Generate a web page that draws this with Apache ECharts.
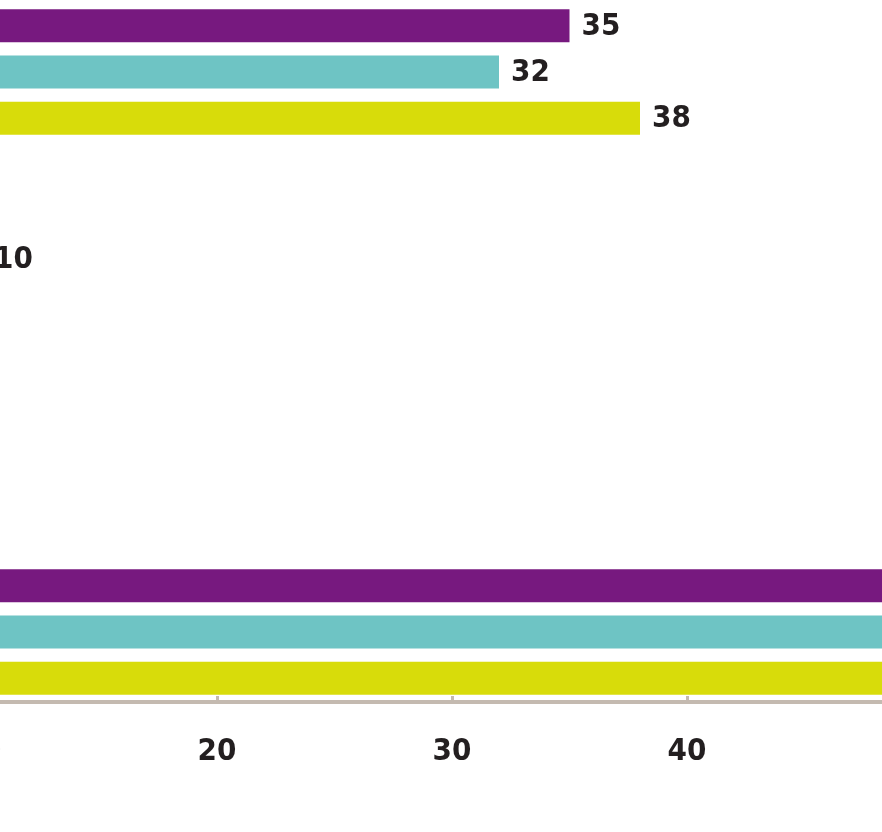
<!DOCTYPE html>
<html>
<head>
<meta charset="utf-8">
<style>
  html, body { margin: 0; padding: 0; background: #ffffff; }
  #chart { width: 882px; height: 832px; }
</style>
<script src="https://cdn.jsdelivr.net/npm/echarts@6/dist/echarts.min.js"></script>
</head>
<body>
<div id="chart"></div>
<script>
// Categories (their labels lie outside the visible crop)
const categories = ['Category 1', 'Category 2', 'Category 3', 'Category 4'];
// Series values (values whose labels are off-canvas are estimates)
const seriesPurple = [35, 8, 4, 56];
const seriesCyan   = [32, 10, 3, 53];
const seriesYellow = [38, 6, 5, 55];
const seriesNames  = ['Series A', 'Series B', 'Series C'];
const colors = ['#77197f', '#6ec4c4', '#d8dc0a'];
const xTicks = { min: 0, max: 60, interval: 10 };

const FONT = '"DejaVu Sans Condensed", "DejaVu Sans", sans-serif';

const chart = echarts.init(document.getElementById('chart'), null, { renderer: 'canvas' });

const labelStyle = {
  show: true,
  position: 'right',
  distance: 12,
  offset: [0, 1],
  color: '#231f20',
  fontFamily: FONT,
  fontWeight: 'bold',
  fontSize: 31
};

function makeSeries(name, data, color) {
  return {
    name: name,
    type: 'bar',
    data: data,
    barWidth: 33,
    barGap: '40%',
    itemStyle: { color: color },
    label: labelStyle,
    silent: true,
    animation: false
  };
}

chart.setOption({
  animation: false,
  backgroundColor: '#ffffff',
  grid: {
    left: -253, right: -275, top: -21.3, bottom: 106.7,
    containLabel: false,
    outerBoundsMode: 'none'
  },
  xAxis: {
    type: 'value',
    min: xTicks.min,
    max: xTicks.max,
    interval: xTicks.interval,
    position: 'bottom',
    offset: -23.3,
    axisLine: { show: true, lineStyle: { color: '#c4bab0', width: 4 } },
    axisTick: { show: true, inside: true, length: 6, lineStyle: { color: '#c4bab0', width: 3 } },
    splitLine: { show: false },
    axisLabel: {
      margin: 34,
      color: '#231f20',
      fontFamily: FONT,
      fontWeight: 'bold',
      fontSize: 31
    }
  },
  yAxis: {
    type: 'category',
    data: categories,
    inverse: true,
    axisLine: { show: false },
    axisTick: { show: false },
    axisLabel: { show: false },
    splitLine: { show: false }
  },
  series: [
    makeSeries(seriesNames[0], seriesPurple, colors[0]),
    makeSeries(seriesNames[1], seriesCyan, colors[1]),
    makeSeries(seriesNames[2], seriesYellow, colors[2])
  ]
});
</script>
</body>
</html>
